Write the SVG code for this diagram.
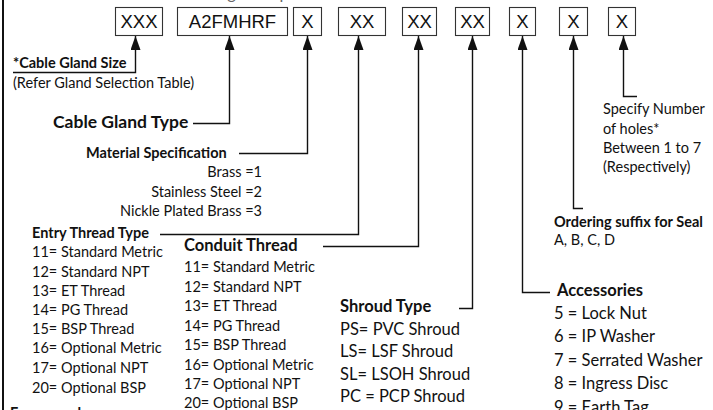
<svg xmlns="http://www.w3.org/2000/svg" width="713" height="410" viewBox="0 0 713 410">
<style>
text{font-family:Lato,"Open Sans","Liberation Sans",sans-serif;fill:#111}
.b{font-weight:bold}
.s14{font-size:14.5px}
.s16{font-size:16.5px}
.box rect{fill:#fff;stroke:#333;stroke-width:1.1}
.box text{font-family:"Liberation Sans",Arial,sans-serif;font-size:18.5px;text-anchor:middle;fill:#111}
.con path{fill:none;stroke:#111;stroke-width:1.4}
.r{text-anchor:end}
</style>
<defs>
<marker id="ah" markerUnits="userSpaceOnUse" viewBox="0 0 14 10" refX="14" refY="5" markerWidth="14" markerHeight="10" orient="auto-start-reverse">
<path d="M0,0 L14,5 L0,10 z" fill="#111"/>
</marker>
</defs>
<rect width="713" height="410" fill="#fff"/>
<line x1="3" y1="0" x2="3" y2="410" stroke="#111" stroke-width="2"/>
<text class="s16" x="43" y="-1" style="fill:#666">Product Code for Ordering Example</text>

<g id="box-size" class="box"><rect x="115.5" y="7.5" width="47" height="28"/><text x="139" y="28">XXX</text></g>
<g id="box-type" class="box"><rect x="177.5" y="7.5" width="110" height="28"/><text x="232.5" y="28">A2FMHRF</text></g>
<g id="box-material" class="box"><rect x="293.5" y="7.5" width="28" height="28"/><text x="307.5" y="28">X</text></g>
<g id="box-entry" class="box"><rect x="338.5" y="7.5" width="47" height="28"/><text x="362" y="28">XX</text></g>
<g id="box-conduit" class="box"><rect x="402.5" y="7.5" width="34" height="28"/><text x="419.5" y="28">XX</text></g>
<g id="box-shroud" class="box"><rect x="455.5" y="7.5" width="34" height="28"/><text x="472.5" y="28">XX</text></g>
<g id="box-accessories" class="box"><rect x="509.5" y="7.5" width="26" height="28"/><text x="522.5" y="28">X</text></g>
<g id="box-seal" class="box"><rect x="559.5" y="7.5" width="28" height="28"/><text x="573.5" y="28">X</text></g>
<g id="box-holes" class="box"><rect x="608.5" y="7.5" width="27" height="28"/><text x="622" y="28">X</text></g>

<g id="connectors" class="con">
<path d="M135.5,36 V72.5 H13" marker-start="url(#ah)"/>
<path d="M229.5,36 V123.5 H193" marker-start="url(#ah)"/>
<path d="M307.5,36 V153.5 H239" marker-start="url(#ah)"/>
<path d="M358.5,36 V234.5 H160" marker-start="url(#ah)"/>
<path d="M418.5,36 V246.5 H323" marker-start="url(#ah)"/>
<path d="M472.5,36 V308.5 H459" marker-start="url(#ah)"/>
<path d="M522.5,36 V292.5 H550" marker-start="url(#ah)"/>
<path d="M573.5,36 V208.5 H583" marker-start="url(#ah)"/>
<path d="M623.5,36 V96.5 H637" marker-start="url(#ah)"/>
</g>

<g id="label-size">
<text class="b s14" x="13" y="68">*Cable Gland Size</text>
<text class="s14" x="13" y="88">(Refer Gland Selection Table)</text>
</g>
<g id="label-type">
<text class="b" x="53" y="128" style="font-size:17.5px">Cable Gland Type</text>
</g>
<g id="label-material">
<text class="b s14" x="86" y="158">Material Specification</text>
<text class="s14 r" x="262" y="177">Brass =1</text>
<text class="s14 r" x="262" y="197">Stainless Steel =2</text>
<text class="s14 r" x="262" y="216">Nickle Plated Brass =3</text>
</g>
<g id="label-entry">
<text class="b s14" x="32" y="238">Entry Thread Type</text>
<text class="s14" x="32" y="257">11= Standard Metric</text>
<text class="s14" x="32" y="277">12= Standard NPT</text>
<text class="s14" x="32" y="296">13= ET Thread</text>
<text class="s14" x="32" y="315">14= PG Thread</text>
<text class="s14" x="32" y="334">15= BSP Thread</text>
<text class="s14" x="32" y="353">16= Optional Metric</text>
<text class="s14" x="32" y="373">17= Optional NPT</text>
<text class="s14" x="32" y="393">20= Optional BSP</text>
</g>
<g id="label-conduit">
<text class="b s16" x="184" y="251">Conduit Thread</text>
<text class="s14" x="184" y="272">11= Standard Metric</text>
<text class="s14" x="184" y="292">12= Standard NPT</text>
<text class="s14" x="184" y="311">13= ET Thread</text>
<text class="s14" x="184" y="331">14= PG Thread</text>
<text class="s14" x="184" y="350">15= BSP Thread</text>
<text class="s14" x="184" y="370">16= Optional Metric</text>
<text class="s14" x="184" y="389">17= Optional NPT</text>
<text class="s14" x="184" y="408">20= Optional BSP</text>
</g>
<g id="label-shroud">
<text class="b s16" x="340" y="312">Shroud Type</text>
<text class="s16" x="340" y="335">PS= PVC Shroud</text>
<text class="s16" x="340" y="357">LS= LSF Shroud</text>
<text class="s16" x="340" y="380">SL= LSOH Shroud</text>
<text class="s16" x="340" y="402">PC = PCP Shroud</text>
</g>
<g id="label-accessories">
<text class="b s16" x="557" y="296">Accessories</text>
<text class="s16" x="554" y="319">5 = Lock Nut</text>
<text class="s16" x="554" y="342">6 = IP Washer</text>
<text class="s16" x="554" y="366">7 = Serrated Washer</text>
<text class="s16" x="554" y="389">8 = Ingress Disc</text>
<text class="s16" x="554" y="413">9 = Earth Tag</text>
</g>
<g id="label-seal">
<text class="b s14" x="554" y="227">Ordering suffix for Seal</text>
<text class="s14" x="554" y="245">A, B, C, D</text>
</g>
<g id="label-holes">
<text class="s14" x="603" y="114">Specify Number</text>
<text class="s14" x="603" y="134">of holes*</text>
<text class="s14" x="603" y="153">Between 1 to 7</text>
<text class="s14" x="603" y="172">(Respectively)</text>
</g>
<text class="b s14" x="10" y="418">For example</text>
</svg>
